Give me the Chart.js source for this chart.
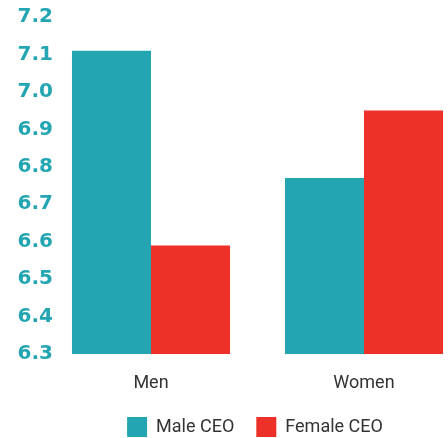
<!DOCTYPE html>
<html>
<head>
<meta charset="utf-8">
<script src="https://cdn.jsdelivr.net/npm/chart.js@4/dist/chart.umd.min.js"></script>
<style>
  html, body { margin: 0; padding: 0; background: #fff; overflow: hidden; }
  #wrap { width: 510px; height: 438px; }
</style>
</head>
<body>
<div id="wrap"><canvas id="chart"></canvas></div>
<script>
const categories = ['Men', 'Women'];
const maleCeo = [7.11, 6.77];
const femaleCeo = [6.59, 6.95];
const yTicks = [6.3, 6.4, 6.5, 6.6, 6.7, 6.8, 6.9, 7.0, 7.1, 7.2];

const teal = '#24a6b2';
const red = '#ee3128';
const labelFont = "'Liberation Sans Narrow', Roboto, sans-serif";

const toPoints = (arr) => arr.map((v, i) => ({ x: i, y: v }));

new Chart(document.getElementById('chart'), {
    type: 'bar',
    data: {
        datasets: [
            { label: 'Male CEO', data: toPoints(maleCeo), backgroundColor: teal },
            { label: 'Female CEO', data: toPoints(femaleCeo), backgroundColor: red }
        ]
    },
    options: {
        responsive: true,
        maintainAspectRatio: false,
        animation: false,
        barPercentage: 1,
        categoryPercentage: 0.742,
        layout: { padding: { top: 17, bottom: -9, left: 0, right: 0 } },
        plugins: {
            tooltip: { enabled: false },
            legend: {
                position: 'bottom',
                labels: {
                    boxWidth: 20,
                    boxHeight: 20,
                    padding: 22,
                    color: '#333',
                    font: { family: labelFont, size: 18 }
                }
            }
        },
        scales: {
            x: {
                type: 'linear',
                offset: false,
                min: -0.446,
                max: 1.6855,
                grid: { display: false, drawTicks: false },
                border: { display: false },
                afterFit: (s) => { s.height = 41; },
                afterBuildTicks: (s) => { s.ticks = categories.map((c, i) => ({ value: i })); },
                ticks: {
                    padding: 19,
                    color: '#333',
                    font: { family: labelFont, size: 18 },
                    callback: (v) => categories[v]
                }
            },
            y: {
                min: 6.3,
                max: 7.2,
                grid: { display: false, drawTicks: false },
                border: { display: false },
                afterFit: (s) => { s.width = 56; },
                afterBuildTicks: (s) => { s.ticks = yTicks.map(v => ({ value: v })); },
                ticks: {
                    padding: 3,
                    color: teal,
                    font: { family: "'DejaVu Sans', sans-serif", size: 20, weight: 'bold' },
                    callback: (v) => v.toFixed(1)
                }
            }
        }
    }
});
</script>
</body>
</html>
